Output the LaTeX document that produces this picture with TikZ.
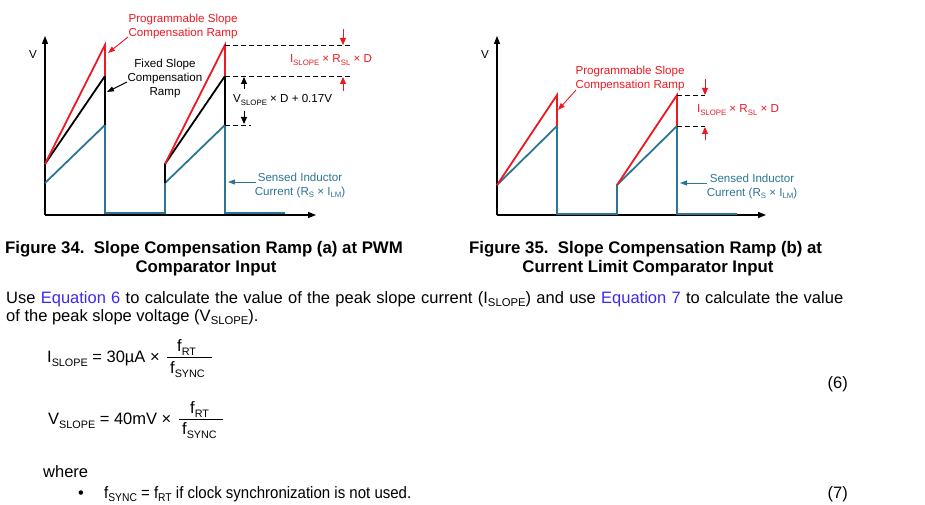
\documentclass[tikz,border=0pt]{standalone}
\usepackage{fontspec}
\setmainfont{Liberation Sans}
\usetikzlibrary{arrows.meta}
\definecolor{tired}{HTML}{EE1822}
\definecolor{tiblue}{HTML}{2B7694}
\definecolor{linkblue}{HTML}{3D28F0}
\newcommand{\fsub}[1]{\raisebox{-0.35ex}{\fontsize{7.8}{8}\selectfont #1}}
\newcommand{\esub}[1]{\raisebox{-3pt}{\fontsize{11.3}{12}\selectfont #1}}
\newcommand{\qsub}[1]{\raisebox{-4pt}{\fontsize{10.8}{12}\selectfont #1}}
\begin{document}
\begin{tikzpicture}[x=1pt,y=-1pt,
  axis/.style={line width=1.2pt,-{Triangle[length=8pt,width=6pt]}},
  wblue/.style={line width=1.8pt,tiblue,line join=miter},
  wblack/.style={line width=1.8pt,black,line join=miter},
  wred/.style={line width=1.8pt,tired,line join=miter},
  dashln/.style={line width=0.9pt,black,dash pattern=on 5pt off 3pt},
  redarr/.style={line width=0.9pt,tired,-{Triangle[length=7pt,width=6pt]}},
  blkarr/.style={line width=0.9pt,black,-{Triangle[length=7pt,width=6pt]}},
  lblarr/.style={line width=0.9pt,-{Triangle[length=7pt,width=5pt]}},
  lbl/.style={font=\fontsize{11.6}{14}\selectfont,inner sep=0pt,align=center},
  captxt/.style={font=\fontsize{16.8}{19}\selectfont\bfseries,inner sep=0pt},
  body/.style={font=\fontsize{16.5}{18}\selectfont,inner sep=0pt},
  eqtxt/.style={font=\fontsize{16.5}{18}\selectfont,inner sep=0pt},
]
\useasboundingbox (0,0) rectangle (925,505);

% ===== Figure 34 =====
\draw[axis] (45,215) -- (316,215);
\draw[axis] (45,215) -- (45,36);
\node[lbl,anchor=center] (v1) at (33,55) {V};
\draw[wblue] (45,183) -- (105,125) -- (105,213) -- (165,213) -- (165,183) -- (225,125) -- (225,213) -- (285,213);
\draw[wblack] (45,164) -- (105,76) -- (105,125);
\draw[wblack] (165,183) -- (165,164) -- (225,76) -- (225,125);
\draw[wred] (45,164) -- (105,45) -- (105,76);
\draw[wred] (165,164) -- (225,45) -- (225,76);
\coordinate (a1) at (225,45);
\coordinate (a2) at (225,76);
\coordinate (a3) at (225,125);
\coordinate (a1e) at (350,45);
\coordinate (a2e) at (350,76);
\coordinate (a3e) at (251,125);
\draw[dashln] (a1) -- (a1e);
\draw[dashln] (a2) -- (a2e);
\draw[dashln] (a3) -- (a3e);
\coordinate (r1s) at (343,29); \coordinate (r1t) at (343,45);
\coordinate (r2s) at (343,91); \coordinate (r2t) at (343,77);
\draw[redarr] (r1s) -- (r1t);
\draw[redarr] (r2s) -- (r2t);
\coordinate (b1s) at (244,89); \coordinate (b1t) at (244,77);
\coordinate (b2s) at (244,111); \coordinate (b2t) at (244,124);
\draw[blkarr] (b1s) -- (b1t);
\draw[blkarr] (b2s) -- (b2t);
\node[lbl,tired] (prog1) at (183,27) {Programmable Slope\\Compensation Ramp};
\node[lbl] (fix1) at (165,79) {Fixed Slope\\Compensation\\Ramp};
\node[lbl,anchor=west] (vsl) at (233,100) {V\fsub{SLOPE} × D + 0.17V};
\node[lbl,tired] (isl1) at (331,60) {I\fsub{SLOPE} × R\fsub{SL} × D};
\node[lbl,tiblue] (sens1) at (300,185) {Sensed Inductor\\Current (R\fsub{S} × I\fsub{LM})};
\coordinate (p1s) at (128,37); \coordinate (p1t) at (108,53);
\draw[lblarr,tired] (p1s) -- (p1t);
\coordinate (f1s) at (127,82); \coordinate (f1t) at (107,92);
\draw[lblarr,black] (f1s) -- (f1t);
\coordinate (s1s) at (256,182); \coordinate (s1t) at (228,182);
\draw[lblarr,tiblue] (s1s) -- (s1t);

% ===== Figure 35 =====
\draw[axis] (497,215) -- (766,215);
\draw[axis] (497,215) -- (497,36);
\node[lbl,anchor=center] (v2) at (485,55) {V};
\draw[wblue] (497,185) -- (557,126) -- (557,214) -- (617,214) -- (617,185) -- (677,126) -- (677,214) -- (737,214);
\draw[wred] (497,185) -- (557,95) -- (557,126);
\draw[wred] (617,185) -- (677,95) -- (677,126);
\coordinate (c1) at (677,95); \coordinate (c1e) at (705,95);
\coordinate (c2) at (677,126); \coordinate (c2e) at (705,126);
\draw[dashln] (c1) -- (c1e);
\draw[dashln] (c2) -- (c2e);
\coordinate (r3s) at (705,79); \coordinate (r3t) at (705,95);
\coordinate (r4s) at (705,140); \coordinate (r4t) at (705,127);
\draw[redarr] (r3s) -- (r3t);
\draw[redarr] (r4s) -- (r4t);
\node[lbl,tired] (prog2) at (630,79) {Programmable Slope\\Compensation Ramp};
\node[lbl,tired] (isl2) at (738,110) {I\fsub{SLOPE} × R\fsub{SL} × D};
\node[lbl,tiblue] (sens2) at (752,186) {Sensed Inductor\\Current (R\fsub{S} × I\fsub{LM})};
\coordinate (p2s) at (576,90); \coordinate (p2t) at (558,110);
\draw[lblarr,tired] (p2s) -- (p2t);
\coordinate (s2s) at (707,183); \coordinate (s2t) at (680,183);
\draw[lblarr,tiblue] (s2s) -- (s2t);

% ===== Captions =====
\node[captxt,anchor=base west] (cap1a) at (5,253) {Figure 34.\ \ Slope Compensation Ramp (a) at PWM};
\node[captxt,anchor=base] (cap1b) at (206,272) {Comparator Input};
\node[captxt,anchor=base west] (cap2a) at (469,253) {Figure 35.\ \ Slope Compensation Ramp (b) at};
\node[captxt,anchor=base] (cap2b) at (648,272) {Current Limit Comparator Input};

% ===== Body =====
\node[body,anchor=base west] (t1) at (6,303) {\makebox[837pt][s]{Use \textcolor{linkblue}{Equation 6} to calculate the value of the peak slope current (I\esub{SLOPE}) and use \textcolor{linkblue}{Equation 7} to calculate the value}};
\node[body,anchor=base west] (t2) at (6,321) {of the peak slope voltage (V\esub{SLOPE}).};

% Equation 6
\node[eqtxt,anchor=base west] (e6) at (47,362) {I\qsub{SLOPE} = 30µA ×};
\node[eqtxt,anchor=base west] (e6n) at (177,351) {f\qsub{RT}};
\node[eqtxt,anchor=base west] (e6d) at (170,373) {f\qsub{SYNC}};
\coordinate (e6b1) at (167,357); \coordinate (e6b2) at (212,357);
\draw[line width=0.7pt] (e6b1) -- (e6b2);
\node[body,anchor=base east] (n6) at (848,388) {(6)};

% Equation 7
\node[eqtxt,anchor=base west] (e7) at (48,424) {V\qsub{SLOPE} = 40mV ×};
\node[eqtxt,anchor=base west] (e7n) at (190,413) {f\qsub{RT}};
\node[eqtxt,anchor=base west] (e7d) at (182,434) {f\qsub{SYNC}};
\coordinate (e7b1) at (179,419); \coordinate (e7b2) at (223,419);
\draw[line width=0.7pt] (e7b1) -- (e7b2);

\node[body,anchor=base west] (wh) at (43,477) {where};
\node[body,anchor=base west] (bul) at (78,498) {•};
\node[body,anchor=base west] (bt) at (104,498) {\addfontfeature{FakeStretch=0.91}f\esub{SYNC} = f\esub{RT} if clock synchronization is not used.};
\node[body,anchor=base east] (n7) at (848,498) {(7)};
\end{tikzpicture}
\end{document}
